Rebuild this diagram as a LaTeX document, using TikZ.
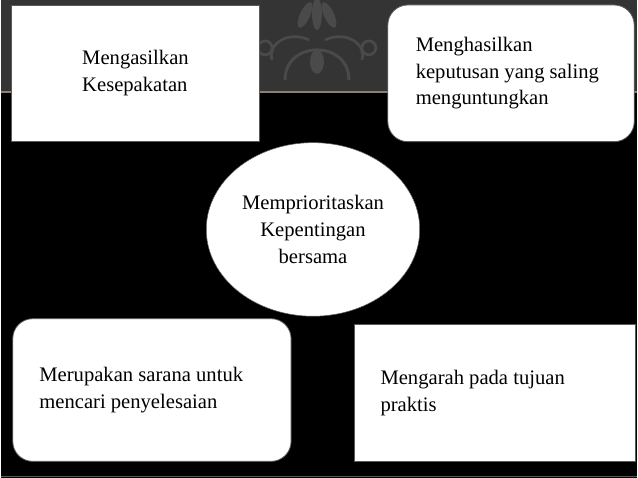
\documentclass[tikz,border=0pt]{standalone}
\usepackage{fontspec}
\setmainfont{Liberation Serif}
\usetikzlibrary{shapes.geometric}

\definecolor{bandgrey}{HTML}{343434}
\definecolor{motifgrey}{HTML}{4A4A4A}
\definecolor{bandline}{HTML}{8C806E}
\definecolor{edgegrey}{HTML}{5A5A5A}

\begin{document}
\begin{tikzpicture}[x=0.75pt, y=-0.75pt,
	box/.style = {draw=edgegrey, line width=0.6pt, fill=white, font=\fontsize{15.5}{20}\selectfont},
	leftbox/.style = {box, align=flush left, inner xsep=20pt},
	oval/.style = {draw=edgegrey, fill=white, ellipse, inner sep=0pt, align=center,
		minimum width=160.5pt, minimum height=130.5pt, font=\fontsize{15.5}{20}\selectfont}]

	% background and top band
	\fill[black] (0, 0) rectangle (638, 479);
	\fill[bandgrey] (0, 0) rectangle (638, 92);
	\draw[bandline, line width=1.2pt] (0, 92) -- (638, 92);
	\draw[edgegrey, line width=1pt] (0, 477.5) -- (638, 477.5);
	\useasboundingbox (0, 0) rectangle (638, 479);

	% damask motif between the top boxes
	\fill[motifgrey] (317, 62) ellipse (7 and 12);
	\draw[motifgrey, line width=2.2pt] (285, 80) .. controls (285, 40) and (349, 40) .. (349, 80);
	\foreach \s in {-1, 1} {
		\draw[motifgrey, line width=2pt] (317+\s*8, 40) .. controls (317+\s*30, 30) and (317+\s*50, 45) .. (317+\s*45, 60);
		\draw[motifgrey, line width=2pt] (317+\s*52, 48) circle (7);
		\fill[motifgrey, rotate around={\s*25:(317+\s*12, 15)}] (317+\s*12, 15) ellipse (5 and 14);
	}
	\fill[motifgrey] (317, 14) ellipse (5 and 16);

	\node[box, minimum width=186pt, minimum height=102.75pt, align=left] (kesepakatan) at (135, 73.5)
		{Mengasilkan\\Kesepakatan};
	\node[leftbox, inner xsep=21pt, rounded corners=15pt, text width=143.25pt, minimum height=102.75pt] (keputusan) at (511.5, 73.5)
		{Menghasilkan\\keputusan yang saling\\menguntungkan};

	\node[oval] (bersama) at (313, 230) {Memprioritaskan\\Kepentingan\\bersama};

	\node[leftbox, rounded corners=15pt, text width=169.25pt, minimum height=107.25pt] (sarana) at (151.5, 391)
		{Merupakan sarana untuk\\mencari penyelesaian};
	\node[leftbox, text width=171.5pt, minimum height=103.5pt] (praktis) at (495, 394)
		{Mengarah pada tujuan\\praktis};

\end{tikzpicture}
\end{document}
